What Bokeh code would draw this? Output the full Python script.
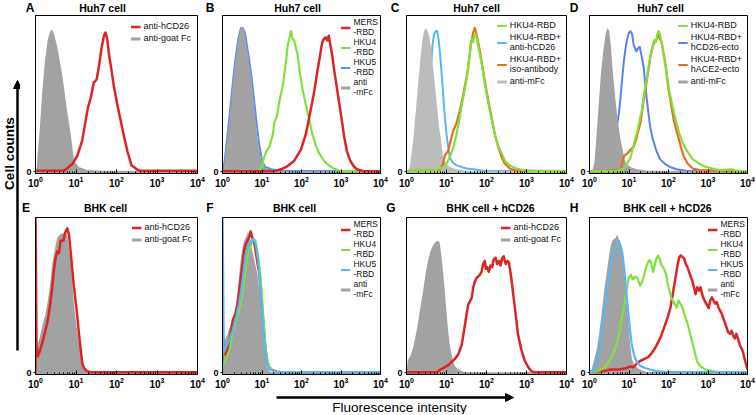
from math import pi
from bokeh.plotting import figure
from bokeh.layouts import row, column
from bokeh.models import (Range1d, FixedTicker, LogTickFormatter, Label, Legend,
                          LegendItem, Arrow, NormalHead)
from bokeh.embed import file_html
from bokeh.resources import INLINE

# ---------------- data (x = log10 fluorescence, y = % of panel height) -------------
A_GREY_X = [0.0, 0.025, 0.04, 0.107, 0.165, 0.23, 0.305, 0.37, 0.41, 0.47, 0.536, 0.66, 0.78, 0.87, 0.95, 1.01, 1.07, 1.28, 1.6, 4.0]
A_GREY_Y = [0, 2, 7, 28, 51, 70, 85, 90, 91, 87, 80, 62, 39, 24, 7, 5, 3, 1, 0.5, 0.3]
A_RED_X = [0.0, 0.70, 0.78, 0.91, 1.03, 1.155, 1.24, 1.295, 1.36, 1.44, 1.51, 1.57, 1.63, 1.69, 1.73, 1.77, 1.81, 1.87, 1.94, 2.02, 2.10, 2.19, 2.27, 2.37, 2.43, 2.52, 2.6, 4.0]
A_RED_Y = [0.5, 0.5, 2, 5, 10, 20, 33, 41, 47, 57, 59, 68, 79, 87, 89, 85, 76, 66, 54, 43, 33, 22, 13, 4, 3, 1, 0.5, 0.5]

B_GREY_X = [0.0, 0.025, 0.05, 0.083, 0.15, 0.233, 0.317, 0.4, 0.467, 0.5, 0.55, 0.59, 0.65, 0.717, 0.775, 0.84, 0.9, 0.967, 1.025, 1.11, 1.275, 1.73, 4.0]
B_GREY_Y = [0, 0, 5, 15, 28, 49, 70, 85, 92, 93, 90, 84, 75, 62, 48, 32, 19, 9, 4, 2, 1, 0.3, 0.2]
B_BLUE_X = [0.0, 0.05, 0.15, 0.233, 0.317, 0.4, 0.467, 0.51, 0.567, 0.617, 0.667, 0.733, 0.8, 0.867, 0.933, 1.0, 1.083, 1.233, 1.48, 4.0]
B_BLUE_Y = [0.5, 6, 29, 50, 70, 85, 92, 92, 89, 81, 73, 61, 46, 30, 17, 7, 3, 1.5, 0.5, 0.3]
B_GREEN_X = [0.0, 0.9, 1.0, 1.05, 1.11, 1.19, 1.275, 1.317, 1.383, 1.44, 1.525, 1.61, 1.65, 1.69, 1.733, 1.775, 1.817, 1.86, 1.9, 1.967, 2.025, 2.11, 2.19, 2.275, 2.36, 2.44, 2.567, 2.69, 2.82, 2.98, 4.0]
B_GREEN_Y = [0.3, 0.3, 2.5, 9, 13, 16, 24, 32, 36, 45, 55, 71, 81, 85, 90, 85, 84, 79, 75, 62, 53, 43, 34, 24, 17, 12, 7, 4, 2, 0.5, 0.3]
B_RED_X = [0.0, 1.317, 1.483, 1.65, 1.817, 1.983, 2.11, 2.19, 2.275, 2.333, 2.4, 2.467, 2.525, 2.567, 2.61, 2.65, 2.69, 2.733, 2.775, 2.833, 2.9, 2.96, 3.025, 3.083, 3.15, 3.233, 3.317, 3.4, 3.567, 4.0]
B_RED_Y = [0.3, 0.3, 1.5, 3.6, 7, 14, 24, 34, 45, 53, 64, 74, 83, 85, 86, 84, 87, 81, 75, 64, 53, 43, 32, 22, 13, 7, 3.6, 1.5, 0.3, 0.3]

C_GREY_X = [0.0, 0.04, 0.083, 0.167, 0.233, 0.29, 0.35, 0.4, 0.44, 0.483, 0.525, 0.567, 0.625, 0.683, 0.75, 0.817, 0.875, 0.917, 0.983, 1.083, 1.25, 1.5, 4.0]
C_GREY_Y = [0, 1, 3, 20, 39, 56, 73, 85, 90, 92, 90, 87, 77, 62, 45, 28, 18, 9, 5, 3, 1.5, 0.5, 0.3]
C_BLUE_X = [0.0, 0.333, 0.5, 0.567, 0.61, 0.65, 0.69, 0.733, 0.767, 0.8, 0.833, 0.875, 0.917, 0.958, 1.0, 1.04, 1.083, 1.15, 1.25, 1.375, 1.5, 1.667, 1.917, 4.0]
C_BLUE_Y = [0.3, 2, 24, 49, 66, 81, 88, 90, 90, 85, 77, 64, 49, 35, 24, 16, 9, 6, 4, 3, 2, 1.5, 0.5, 0.3]
C_GREEN_X = [0.0, 0.75, 0.917, 1.0, 1.083, 1.167, 1.25, 1.333, 1.4, 1.458, 1.517, 1.567, 1.608, 1.642, 1.667, 1.69, 1.733, 1.79, 1.85, 1.917, 1.958, 2.017, 2.083, 2.15, 2.225, 2.3, 2.375, 2.458, 2.583, 2.75, 2.917, 3.083, 4.0]
C_GREEN_Y = [0.3, 1, 3, 5, 9.5, 15, 24, 35, 45, 53, 62, 72, 83, 85, 83, 87, 88, 81, 73, 64, 56, 48, 39, 31, 22, 16, 12, 7, 4, 2, 1, 0.5, 0.3]
C_ORANGE_X = [0.0, 0.833, 0.917, 0.958, 1.04, 1.125, 1.183, 1.25, 1.333, 1.4, 1.483, 1.54, 1.608, 1.667, 1.708, 1.75, 1.79, 1.85, 1.917, 1.983, 2.05, 2.125, 2.208, 2.29, 2.375, 2.458, 2.583, 2.75, 4.0]
C_ORANGE_Y = [0.3, 1, 5, 10.5, 13, 22, 27, 31, 39, 47, 58, 66, 81, 89, 92, 88, 83, 75, 64, 54, 45, 35, 24, 16, 9.5, 5, 2, 0.6, 0.3]

D_GREY_X = [0.0, 0.04, 0.083, 0.124, 0.166, 0.224, 0.29, 0.357, 0.415, 0.456, 0.498, 0.54, 0.58, 0.64, 0.705, 0.77, 0.83, 0.888, 0.938, 1.037, 1.2, 1.45, 4.0]
D_GREY_Y = [0, 0.5, 1, 6, 19, 40, 63, 79, 89, 92, 90, 81, 67, 50, 35, 23, 15, 8, 5, 3, 1.5, 0.5, 0.3]
D_BLUE_X = [0.0, 0.456, 0.622, 0.705, 0.747, 0.788, 0.83, 0.871, 0.913, 0.954, 0.996, 1.037, 1.079, 1.12, 1.187, 1.228, 1.27, 1.311, 1.37, 1.411, 1.452, 1.494, 1.535, 1.6, 1.685, 1.784, 1.909, 2.033, 2.2, 2.448, 4.0]
D_BLUE_Y = [0.3, 2, 20, 31, 38, 48, 60, 71, 79, 85, 89, 90, 88, 81, 77, 79, 80, 75, 67, 56, 46, 37, 29, 21, 14, 8, 5, 3, 1.5, 0.5, 0.3]
D_GREEN_X = [0.0, 0.705, 0.871, 0.954, 1.037, 1.12, 1.203, 1.27, 1.328, 1.37, 1.436, 1.494, 1.552, 1.602, 1.635, 1.685, 1.718, 1.751, 1.784, 1.834, 1.884, 1.95, 2.017, 2.1, 2.183, 2.266, 2.349, 2.407, 2.49, 2.614, 2.78, 2.946, 3.112, 3.278, 3.61, 3.69, 4.0]
D_GREEN_Y = [0.3, 0.5, 2, 5, 9, 17, 25, 33, 40, 48, 58, 67, 75, 81, 84, 83, 88, 90, 88, 81, 73, 63, 52, 42, 33, 25, 19, 16, 12.5, 8, 5, 3, 2, 1, 1.5, 0.5, 0.3]
D_ORANGE_X = [0.0, 0.788, 0.871, 0.954, 1.037, 1.12, 1.187, 1.245, 1.303, 1.37, 1.436, 1.502, 1.552, 1.602, 1.66, 1.701, 1.743, 1.784, 1.826, 1.867, 1.934, 1.992, 2.058, 2.133, 2.216, 2.3, 2.38, 2.49, 2.614, 2.78, 4.0]
D_ORANGE_Y = [0.3, 1, 10, 11.5, 14, 16, 21, 27, 33, 46, 56, 67, 75, 80, 84, 85, 87.5, 85, 83, 77, 67, 54, 44, 33, 25, 17, 10, 5, 2, 1, 0.3]

E_GREY_X = [0.0, 0.008, 0.058, 0.107, 0.165, 0.207, 0.248, 0.289, 0.33, 0.372, 0.413, 0.455, 0.496, 0.537, 0.603, 0.661, 0.702, 0.744, 0.785, 0.826, 0.868, 0.909, 0.95, 0.992, 1.05, 1.1, 1.157, 1.198, 1.264, 1.364, 4.0]
E_GREY_Y = [0, 12.5, 19, 23, 30, 34, 38, 44, 51, 59, 70, 76, 82, 87, 89, 90, 89, 91, 88, 80, 72, 57, 44, 34, 23, 15, 6, 3, 1, 0.3, 0.3]
E_RED_X = [0.0, 0.002, 0.025, 0.058, 0.107, 0.165, 0.223, 0.289, 0.33, 0.372, 0.413, 0.455, 0.496, 0.537, 0.579, 0.62, 0.686, 0.727, 0.785, 0.826, 0.868, 0.909, 0.95, 1.017, 1.074, 1.116, 1.157, 1.198, 1.264, 1.364, 4.0]
E_RED_Y = [0.3, 99, 17, 10.5, 14, 19, 25, 32, 38, 46, 55, 66, 74, 78, 77, 85, 85, 90, 93, 89, 78, 66, 55, 40, 25, 15, 6, 3, 1, 0.3, 0.3]

F_GREY_X = [0.0, 0.016, 0.057, 0.098, 0.14, 0.18, 0.22, 0.262, 0.303, 0.344, 0.385, 0.426, 0.467, 0.508, 0.549, 0.59, 0.648, 0.713, 0.795, 0.877, 0.959, 1.0, 1.04, 1.082, 1.123, 1.18, 1.246, 4.0]
F_GREY_Y = [0, 25.5, 21, 23, 25.5, 29, 32, 36, 38, 43, 53, 64, 74, 81, 85, 87, 91, 83, 74, 64, 49, 36, 21, 11, 4, 1, 0.3, 0.3]
F_RED_X = [0.0, 0.016, 0.057, 0.098, 0.14, 0.18, 0.262, 0.328, 0.385, 0.426, 0.467, 0.508, 0.549, 0.59, 0.631, 0.672, 0.713, 0.754, 0.795, 0.836, 0.877, 0.918, 0.959, 1.0, 1.041, 1.082, 1.123, 1.164, 1.246, 1.369, 1.49, 4.0]
F_RED_Y = [0.3, 22, 13, 11, 17, 21, 34, 38, 45, 53, 62, 70, 79, 83, 85, 87, 91, 87, 85, 79, 72, 66, 57, 43, 30, 17, 8.5, 4, 2, 0.6, 0.3, 0.3]
F_GREEN_X = [0.0, 0.016, 0.057, 0.098, 0.18, 0.262, 0.344, 0.426, 0.492, 0.549, 0.59, 0.631, 0.672, 0.738, 0.779, 0.836, 0.877, 0.918, 0.959, 1.0, 1.041, 1.082, 1.123, 1.18, 1.246, 1.328, 1.49, 4.0]
F_GREEN_Y = [0.3, 5, 7.5, 10, 15, 26, 33, 40, 49, 60, 68, 74, 79, 83, 86, 85, 79, 72, 64, 51, 34, 19, 10.6, 4, 2, 0.6, 0.3, 0.3]
F_BLUE_X = [0.0, 0.004, 0.033, 0.098, 0.18, 0.262, 0.344, 0.426, 0.508, 0.574, 0.631, 0.689, 0.754, 0.795, 0.836, 0.877, 0.918, 0.959, 1.0, 1.041, 1.082, 1.123, 1.18, 1.287, 1.41, 4.0]
F_BLUE_Y = [0.3, 99, 13, 17, 21, 28, 36, 45, 60, 74, 81, 83, 86, 86, 83, 77, 68, 55, 40, 26, 13, 6, 2.5, 1, 0.3, 0.3]

G_GREY_X = [0.0, 0.033, 0.099, 0.165, 0.223, 0.281, 0.347, 0.413, 0.471, 0.529, 0.595, 0.661, 0.719, 0.777, 0.826, 0.86, 0.9, 0.942, 0.992, 1.033, 1.091, 1.157, 1.215, 1.298, 1.421, 1.587, 4.0]
G_GREY_Y = [1.7, 8, 11, 16, 23, 31, 42, 52, 63, 71, 78, 82, 84, 85, 84, 78, 69, 57, 42, 29, 16, 8, 4, 2, 0.6, 0.2, 0.2]
G_RED_X = [0.0, 0.76, 0.843, 0.926, 1.05, 1.132, 1.215, 1.298, 1.38, 1.438, 1.504, 1.545, 1.587, 1.628, 1.669, 1.711, 1.752, 1.835, 1.876, 1.917, 1.959, 1.983, 2.017, 2.058, 2.099, 2.14, 2.182, 2.231, 2.264, 2.314, 2.347, 2.397, 2.43, 2.479, 2.521, 2.562, 2.579, 2.62, 2.661, 2.727, 2.785, 2.868, 2.95, 3.033, 3.116, 3.198, 4.0]
G_RED_Y = [0.3, 0.3, 2, 3, 5, 7, 9, 12, 18, 27, 38, 44, 46, 48, 55, 59, 61, 63, 65, 70, 72, 67, 68, 65, 69, 68, 73, 74, 70, 72, 69, 74, 75, 70, 72, 71, 68, 61, 52, 38, 25, 15, 8, 4, 1, 0.3, 0.3]

H_GREY_X = [0.0, 0.041, 0.083, 0.124, 0.19, 0.248, 0.306, 0.372, 0.438, 0.496, 0.537, 0.579, 0.62, 0.661, 0.702, 0.744, 0.785, 0.826, 0.868, 0.909, 0.95, 0.992, 1.033, 1.074, 1.132, 1.215, 1.322, 1.446, 4.0]
H_GREY_Y = [0.5, 1, 5, 9, 15.5, 26, 38, 53, 65, 75.5, 82, 85, 86, 87, 89, 86, 82, 76, 67.5, 55, 43, 30, 17.5, 9, 5, 3, 1.6, 0.4, 0.3]
H_BLUE_X = [0.0, 0.083, 0.124, 0.19, 0.248, 0.306, 0.372, 0.455, 0.537, 0.603, 0.661, 0.702, 0.744, 0.785, 0.826, 0.868, 0.909, 0.95, 0.992, 1.033, 1.074, 1.132, 1.198, 1.281, 1.405, 1.529, 1.694, 1.942, 4.0]
H_BLUE_Y = [0.3, 1, 3, 9, 17.5, 28, 40, 55, 67.5, 75.5, 80, 82, 85, 82, 78, 69.5, 59, 47, 36, 26, 17.5, 11, 7, 4.5, 3, 2, 1, 0.4, 0.3]
H_GREEN_X = [0.0, 0.207, 0.372, 0.496, 0.62, 0.702, 0.785, 0.868, 0.934, 0.992, 1.05, 1.099, 1.157, 1.215, 1.281, 1.322, 1.364, 1.43, 1.488, 1.529, 1.57, 1.612, 1.653, 1.694, 1.736, 1.777, 1.818, 1.86, 1.901, 1.942, 1.983, 2.025, 2.066, 2.149, 2.207, 2.256, 2.298, 2.355, 2.421, 2.479, 2.537, 2.603, 2.661, 2.727, 2.81, 2.934, 3.099, 3.264, 4.0]
H_GREEN_Y = [0.3, 1, 3, 7, 13.5, 19.5, 30, 42, 53, 61, 63, 60, 62, 61, 56, 58, 61, 67.5, 71.5, 72.5, 69.5, 65, 69.5, 73.5, 75.5, 73.5, 69.5, 68, 66, 63, 57, 53, 48.5, 44.5, 42, 46.5, 44.5, 42, 36, 32, 26, 19.5, 13.5, 7, 4, 2, 1, 0.4, 0.3]
H_RED_X = [0.0, 0.372, 0.537, 0.744, 0.95, 1.033, 1.116, 1.198, 1.281, 1.405, 1.488, 1.57, 1.653, 1.736, 1.818, 1.901, 1.983, 2.05, 2.107, 2.149, 2.19, 2.231, 2.273, 2.314, 2.355, 2.397, 2.438, 2.479, 2.521, 2.562, 2.603, 2.645, 2.686, 2.727, 2.769, 2.81, 2.851, 2.893, 2.934, 2.975, 3.017, 3.058, 3.099, 3.14, 3.182, 3.223, 3.264, 3.306, 3.347, 3.388, 3.43, 3.471, 3.512, 3.554, 3.595, 3.636, 3.678, 3.719, 3.76, 3.802, 3.843, 3.884, 3.926, 3.967, 4.0]
H_RED_Y = [0.5, 1, 2, 2, 3, 4, 3.5, 6, 7.5, 9, 10, 12.5, 15.5, 19.5, 24, 30, 36, 42, 50.5, 57, 63, 69.5, 74.5, 75.5, 74.5, 73.5, 70, 68, 65, 62, 59, 55, 50.5, 55, 53, 55, 50.5, 47.5, 45.5, 43.5, 41.5, 46.5, 48.5, 46.5, 44.5, 45.5, 42, 40, 38, 35, 32, 29, 26, 25, 27, 24, 22, 25, 22, 18, 16, 13.5, 9, 5, 2]

LETTERS_TOP = ["A", "B", "C", "D"]
LETTERS_BOT = ["E", "F", "G", "H"]
TITLES_TOP = ["Huh7 cell", "Huh7 cell", "Huh7 cell", "Huh7 cell"]
TITLES_BOT = ["BHK cell", "BHK cell", "BHK cell + hCD26", "BHK cell + hCD26"]
LEG_AB = ["anti-hCD26", "anti-goat Fc"]
LEG_RBD = ["MERS\n-RBD", "HKU4\n-RBD", "HKU5\n-RBD", "anti\n-mFc"]
LEG_C = ["HKU4-RBD", "HKU4-RBD+\nanti-hCD26", "HKU4-RBD+\niso-antibody", "anti-mFc"]
LEG_D = ["HKU4-RBD", "HKU4-RBD+\nhCD26-ecto", "HKU4-RBD+\nhACE2-ecto", "anti-mFc"]
TICK_MAJOR = [1, 10, 100, 1000, 10000]
TICK_MINOR = [m * 10 ** k for k in range(4) for m in range(2, 10)]
Y_LABEL = "Cell counts"
X_LABEL = "Fluorescence intensity"

# ---------------- style / layout ----------------
FONT = "Liberation Sans"
RED = "#dc2424"
GREEN = "#7ee23c"
BLUE_B = "#5b8cf2"
SKY = "#58b6f2"
BLUE_D = "#5a80f2"
ORANGE = "#eb6a20"
GREY = "#a2a2a2"
GREY_C = "#bcbcbc"

YLAB_W = 20
COLS = [(190, 15, 13), (184, 10, 14), (183, 10, 11), (178, 10, 8)]   # width, left, right border
ROW_W = sum(c[0] for c in COLS)
HEAD1_H = 14
TOP = (179, 1, 20)     # height, top border, bottom border
HEAD2_H = 21
BOT = (176, 3, 15)
XLAB_H = 24
TOTAL_H = HEAD1_H + TOP[0] + HEAD2_H + BOT[0] + XLAB_H

# positions of panel letters (right edge) and title centres inside header strips
LETTER_RIGHT_TOP = [14, 194, 379, 558]
TITLE_CENTER_TOP = [82, 277, 456, 640]
LETTER_RIGHT_BOT = [9.5, 193, 375, 558]
TITLE_CENTER_BOT = [85, 274, 470, 647]


def plain_fig(w, h):
    f = figure(width=w, height=h, x_range=Range1d(0, w), y_range=Range1d(h, 0), title=None,
               toolbar_location=None, output_backend="svg", min_border=0,
               x_axis_location=None, y_axis_location=None, outline_line_color=None)
    f.grid.visible = False
    return f


def make_panel(col, dims, layers, legend, leg_margin, leg_font="9px", leg_spacing=2):
    w, ml, mr = COLS[col]
    h, mt, mb = dims
    p = figure(width=w, height=h, x_axis_type="log", x_range=Range1d(1, 1e4),
               y_range=Range1d(-1.2, 100), title=None, toolbar_location=None, output_backend="svg",
               min_border_left=ml, min_border_right=mr, min_border_top=mt, min_border_bottom=mb)
    p.xgrid.visible = False
    p.ygrid.visible = False
    p.outline_line_color = "black"
    p.outline_line_alpha = 1.0
    p.outline_line_width = 1
    xa = p.xaxis[0]
    xa.ticker = FixedTicker(ticks=TICK_MAJOR, minor_ticks=TICK_MINOR)
    xa.formatter = LogTickFormatter()
    xa.axis_line_color = "black"
    xa.major_tick_in = 4
    xa.major_tick_out = 0
    xa.minor_tick_in = 2
    xa.minor_tick_out = 0
    xa.major_tick_line_color = "black"
    xa.minor_tick_line_color = "black"
    xa.major_label_text_font = FONT
    xa.major_label_text_font_style = "bold"
    xa.major_label_text_font_size = "10px"
    xa.major_label_text_color = "black"
    xa.major_label_standoff = 2
    ya = p.yaxis[0]
    ya.ticker = FixedTicker(ticks=[0], minor_ticks=[])
    ya.major_tick_in = 0
    ya.major_tick_out = 2
    ya.minor_tick_in = 0
    ya.minor_tick_out = 0
    ya.major_tick_line_color = "black"
    ya.axis_line_color = "black"
    ya.major_label_text_font = FONT
    ya.major_label_text_font_style = "bold"
    ya.major_label_text_font_size = "9px"
    ya.major_label_text_color = "black"
    ya.major_label_standoff = 2

    by_color = {}
    for kind, lx, pct, color, lw in layers:
        assert len(lx) == len(pct)
        xs = [10 ** v for v in lx]
        if kind == "fill":
            p.varea(x=xs, y1=[-1.2] * len(xs), y2=pct, fill_color=color, fill_alpha=1.0)
        else:
            by_color[color] = p.line(x=xs, y=pct, line_color=color, line_width=lw, line_join="round")

    items = []
    for lab, color in legend:
        r = by_color.get(color)
        if r is None:
            r = p.line(x=[float("nan")], y=[float("nan")], line_color=color, line_width=3)
        items.append(LegendItem(label=lab, renderers=[r]))
    leg = Legend(items=items, location="top_right", margin=leg_margin, padding=1, spacing=leg_spacing,
                 glyph_width=10, glyph_height=7, label_height=7, label_standoff=3,
                 label_text_font=FONT, label_text_font_size=leg_font,
                 label_text_line_height=0.8, label_text_color="#111111",
                 border_line_alpha=0, background_fill_alpha=0)
    p.add_layout(leg)
    return p


def make_header(h, mid, letters, letter_right, titles, title_center):
    f = plain_fig(ROW_W, h)
    for t, xc in zip(titles, title_center):
        f.add_layout(Label(x=xc, y=mid, text=t, text_align="center",
                           text_baseline="middle", text_font=FONT, text_font_style="bold",
                           text_font_size="10.5px", text_color="black"))
    for t, xr in zip(letters, letter_right):
        f.add_layout(Label(x=xr, y=mid, text=t, text_align="right",
                           text_baseline="middle", text_font=FONT, text_font_style="bold",
                           text_font_size="12px", text_color="black"))
    return f


pA = make_panel(0, TOP, [("fill", A_GREY_X, A_GREY_Y, GREY, 1), ("line", A_RED_X, A_RED_Y, RED, 2.5)],
                list(zip(LEG_AB, [RED, GREY])), 5)
pB = make_panel(1, TOP, [("line", B_BLUE_X, B_BLUE_Y, BLUE_B, 2), ("fill", B_GREY_X, B_GREY_Y, GREY, 1),
                         ("line", B_GREEN_X, B_GREEN_Y, GREEN, 2.2), ("line", B_RED_X, B_RED_Y, RED, 2.5)],
                list(zip(LEG_RBD, [RED, GREEN, BLUE_B, GREY])), 1, "8.5px", 0)
pC = make_panel(2, TOP, [("line", C_BLUE_X, C_BLUE_Y, SKY, 2), ("fill", C_GREY_X, C_GREY_Y, GREY_C, 1),
                         ("line", C_ORANGE_X, C_ORANGE_Y, ORANGE, 2.2), ("line", C_GREEN_X, C_GREEN_Y, GREEN, 2.2)],
                list(zip(LEG_C, [GREEN, SKY, ORANGE, GREY_C])), 4)
pD = make_panel(3, TOP, [("line", D_BLUE_X, D_BLUE_Y, BLUE_D, 2), ("fill", D_GREY_X, D_GREY_Y, GREY, 1),
                         ("line", D_ORANGE_X, D_ORANGE_Y, ORANGE, 2.2), ("line", D_GREEN_X, D_GREEN_Y, GREEN, 2.2)],
                list(zip(LEG_D, [GREEN, BLUE_D, ORANGE, GREY])), 4)
pE = make_panel(0, BOT, [("fill", E_GREY_X, E_GREY_Y, GREY, 1), ("line", E_RED_X, E_RED_Y, RED, 2.5)],
                list(zip(LEG_AB, [RED, GREY])), 4)
pF = make_panel(1, BOT, [("fill", F_GREY_X, F_GREY_Y, GREY, 1), ("line", F_RED_X, F_RED_Y, RED, 2.5),
                         ("line", F_GREEN_X, F_GREEN_Y, GREEN, 2), ("line", F_BLUE_X, F_BLUE_Y, SKY, 2.2)],
                list(zip(LEG_RBD, [RED, GREEN, SKY, GREY])), 1, "8.5px", 0)
pG = make_panel(2, BOT, [("fill", G_GREY_X, G_GREY_Y, GREY, 1), ("line", G_RED_X, G_RED_Y, RED, 2.5)],
                list(zip(LEG_AB, [RED, GREY])), 4)
pH = make_panel(3, BOT, [("fill", H_GREY_X, H_GREY_Y, GREY, 1), ("line", H_RED_X, H_RED_Y, RED, 2.5),
                         ("line", H_GREEN_X, H_GREEN_Y, GREEN, 2.2), ("line", H_BLUE_X, H_BLUE_Y, SKY, 2.2)],
                list(zip(LEG_RBD, [RED, GREEN, SKY, GREY])), 1, "8.5px", 0)

head1 = make_header(HEAD1_H, 7, LETTERS_TOP, LETTER_RIGHT_TOP, TITLES_TOP, TITLE_CENTER_TOP)
head2 = make_header(HEAD2_H, 14, LETTERS_BOT, LETTER_RIGHT_BOT, TITLES_BOT, TITLE_CENTER_BOT)

# ---------------- outer axis labels ----------------
ylab = plain_fig(YLAB_W, TOTAL_H)
ylab.add_layout(Arrow(end=NormalHead(size=8, fill_color="black", line_color="black"),
                      x_start=17, y_start=350, x_end=17, y_end=80,
                      line_color="black", line_width=2.5))
ylab.add_layout(Label(x=8.5, y=153, text=Y_LABEL, angle=pi / 2, text_align="center",
                      text_baseline="middle", text_font=FONT, text_font_style="bold",
                      text_font_size="13.5px", text_color="black"))

xlab = plain_fig(ROW_W, XLAB_H)
xlab.add_layout(Arrow(end=NormalHead(size=8, fill_color="black", line_color="black"),
                      x_start=256, y_start=7, x_end=493, y_end=7,
                      line_color="black", line_width=2.5))
xlab.add_layout(Label(x=379, y=17, text=X_LABEL, text_align="center", text_baseline="middle",
                      text_font=FONT, text_font_size="13.5px", text_color="black"))

layout = row(ylab, column(head1, row(pA, pB, pC, pD), head2, row(pE, pF, pG, pH), xlab))

open("out.html", "w").write(file_html(layout, INLINE))
